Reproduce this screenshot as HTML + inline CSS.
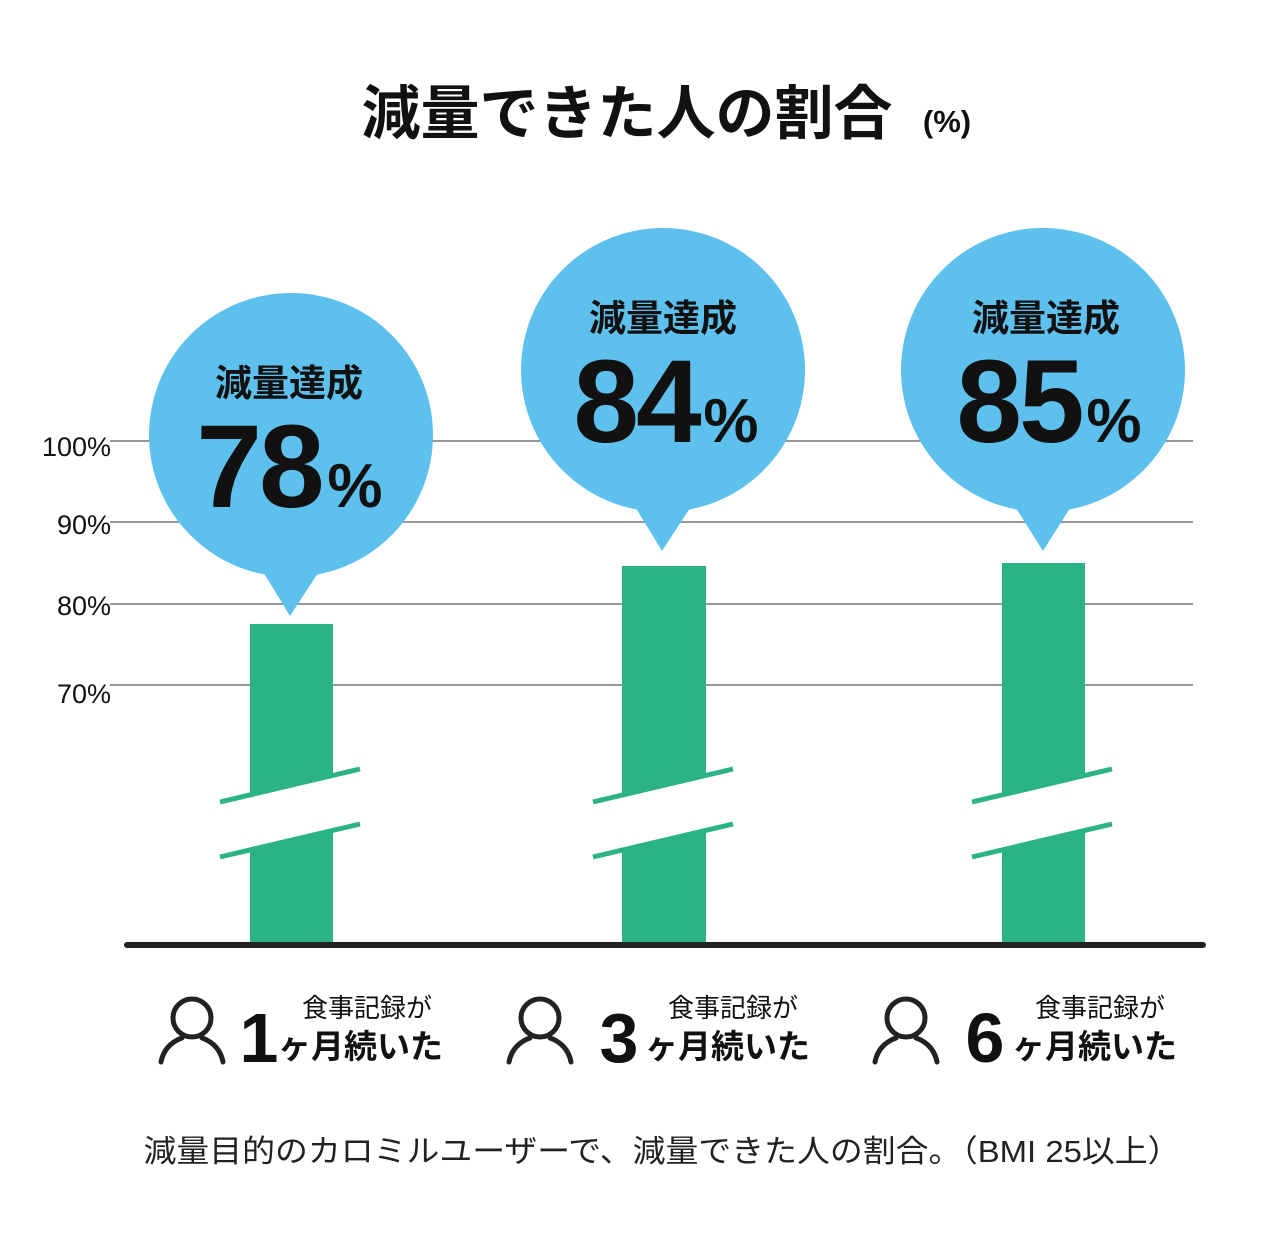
<!DOCTYPE html>
<html><head><meta charset="utf-8"><style>
html,body{margin:0;padding:0;background:#fff;}
svg{display:block;}
text{font-family:"Liberation Sans","Noto Sans CJK JP",sans-serif;}
</style></head><body>
<svg width="1267" height="1235" viewBox="0 0 1267 1235" xmlns="http://www.w3.org/2000/svg">
<rect width="1267" height="1235" fill="#fff"/>
<text x="627" y="134" text-anchor="middle" font-size="59" font-weight="bold" fill="#111" font-family="'Noto Sans CJK JP',sans-serif">減量できた人の割合</text>
<text x="947" y="132" text-anchor="middle" font-size="31" font-weight="bold" fill="#111" font-family="'Noto Sans CJK JP',sans-serif">(%)</text>
<g stroke="#777" stroke-width="1.6">
<line x1="110" y1="441" x2="1193" y2="441"/>
<line x1="110" y1="522" x2="1193" y2="522"/>
<line x1="110" y1="604" x2="1193" y2="604"/>
<line x1="110" y1="685" x2="1193" y2="685"/>
</g>
<g font-size="27" fill="#111" text-anchor="end">
<text x="111" y="456">100%</text>
<text x="111" y="534">90%</text>
<text x="111" y="615">80%</text>
<text x="111" y="703">70%</text>
</g>
<g fill="#2bb286">
<rect x="250" y="624" width="83" height="321"/>
<rect x="622" y="566" width="84" height="379"/>
<rect x="1002" y="563" width="83" height="382"/>
</g>
<g>
<polygon points="220,802 360,767 360,822 220,857" fill="#fff"/>
<polygon points="593,802 733,767 733,822 593,857" fill="#fff"/>
<polygon points="972,802 1112,767 1112,822 972,857" fill="#fff"/>
</g>
<g stroke="#2bb286" stroke-width="5">
<line x1="220" y1="802" x2="360" y2="769"/><line x1="220" y1="857" x2="360" y2="824"/>
<line x1="593" y1="802" x2="733" y2="769"/><line x1="593" y1="857" x2="733" y2="824"/>
<line x1="972" y1="802" x2="1112" y2="769"/><line x1="972" y1="857" x2="1112" y2="824"/>
</g>
<line x1="127" y1="945" x2="1203" y2="945" stroke="#222" stroke-width="6" stroke-linecap="round"/>
<g fill="#5ec0ec">
<circle cx="291" cy="435" r="142"/><polygon points="262,570 320,570 290,616"/>
<circle cx="663" cy="370" r="142"/><polygon points="634,505 692,505 662,551"/>
<circle cx="1043" cy="370" r="142"/><polygon points="1014,505 1072,505 1043,551"/>
</g>
<g fill="#111" font-weight="bold">
<text x="289" y="396" text-anchor="middle" font-size="37" font-family="'Noto Sans CJK JP',sans-serif">減量達成</text>
<text x="259" y="507" text-anchor="middle" font-size="118" letter-spacing="-3">78</text>
<text x="355" y="507" text-anchor="middle" font-size="62">%</text>
<text x="663" y="331" text-anchor="middle" font-size="37" font-family="'Noto Sans CJK JP',sans-serif">減量達成</text>
<text x="636" y="442" text-anchor="middle" font-size="118" letter-spacing="-3">84</text>
<text x="731" y="442" text-anchor="middle" font-size="62">%</text>
<text x="1046" y="331" text-anchor="middle" font-size="37" font-family="'Noto Sans CJK JP',sans-serif">減量達成</text>
<text x="1019" y="442" text-anchor="middle" font-size="118" letter-spacing="-3">85</text>
<text x="1114" y="442" text-anchor="middle" font-size="62">%</text>
</g>
<defs>
<g id="person" fill="none" stroke="#222" stroke-width="5" stroke-linecap="round">
<circle cx="34" cy="22" r="19"/>
<path d="M3,66 C6,50 18,44 24,42 M65,66 C62,50 50,44 44,42"/>
</g>
</defs>
<use href="#person" x="158" y="996"/>
<use href="#person" x="506" y="996"/>
<use href="#person" x="872" y="996"/>
<g fill="#111">
<text x="367" y="1017" text-anchor="middle" font-size="26" font-family="'Noto Sans CJK JP',sans-serif">食事記録が</text>
<text x="259" y="1062" text-anchor="middle" font-size="70" font-weight="bold">1</text>
<text x="278" y="1058" font-size="33" font-weight="bold" font-family="'Noto Sans CJK JP',sans-serif">ヶ月続いた</text>
<text x="733" y="1017" text-anchor="middle" font-size="26" font-family="'Noto Sans CJK JP',sans-serif">食事記録が</text>
<text x="619" y="1062" text-anchor="middle" font-size="70" font-weight="bold">3</text>
<text x="645" y="1058" font-size="33" font-weight="bold" font-family="'Noto Sans CJK JP',sans-serif">ヶ月続いた</text>
<text x="1100" y="1017" text-anchor="middle" font-size="26" font-family="'Noto Sans CJK JP',sans-serif">食事記録が</text>
<text x="985" y="1062" text-anchor="middle" font-size="70" font-weight="bold">6</text>
<text x="1012" y="1058" font-size="33" font-weight="bold" font-family="'Noto Sans CJK JP',sans-serif">ヶ月続いた</text>
<text x="662" y="1162" text-anchor="middle" font-size="31" fill="#222" font-family="'Noto Sans CJK JP',sans-serif" textLength="1037" lengthAdjust="spacingAndGlyphs">減量目的のカロミルユーザーで、減量できた人の割合。（BMI 25以上）</text>
</g>
</svg>
</body></html>
